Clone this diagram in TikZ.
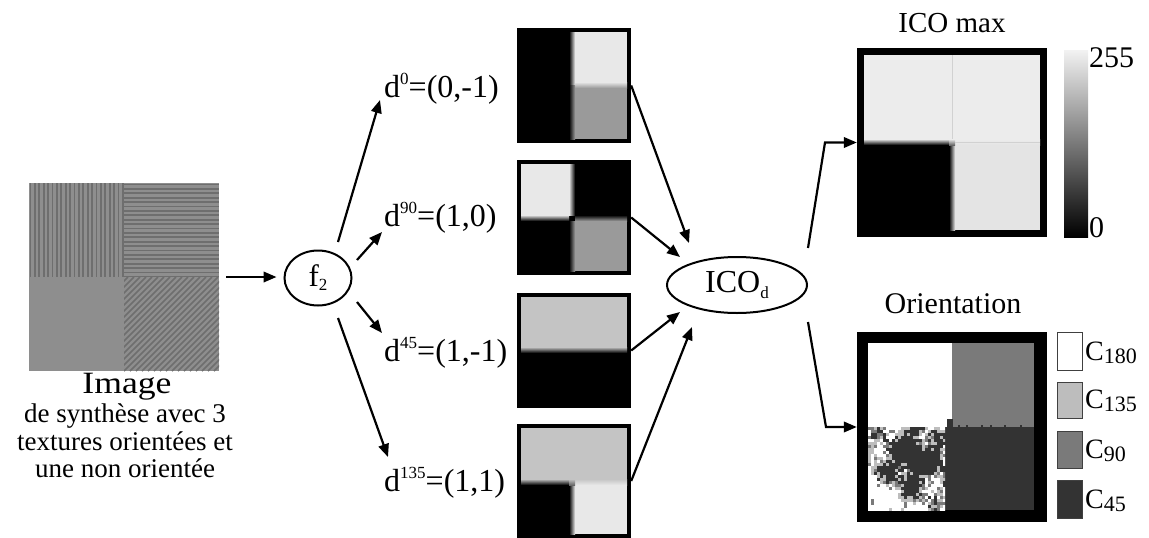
\documentclass[tikz,border=0pt]{standalone}
\usepackage{fontspec}
\setmainfont{Liberation Serif}
\usetikzlibrary{arrows.meta,shapes.geometric}
\newcommand{\myfs}[1]{\fontsize{#1}{#1}\selectfont}
\newcommand{\mysup}[1]{\raisebox{12.5pt}{\myfs{17}#1}}
\definecolor{lt}{HTML}{E8E8E8}
\definecolor{lt2}{HTML}{ECECEC}
\definecolor{lt3}{HTML}{E4E4E4}
\definecolor{mg}{HTML}{9A9A9A}
\definecolor{lg}{HTML}{C4C4C4}
\definecolor{texgray}{HTML}{8E8E8E}
\definecolor{texdark}{HTML}{6E6E6E}
\definecolor{oc1}{HTML}{333333}
\definecolor{oc2}{HTML}{BDBDBD}
\definecolor{oc3}{HTML}{7A7A7A}
\definecolor{oc4}{HTML}{FFFFFF}
\begin{document}
\begin{tikzpicture}[x=1pt,y=-1pt,
  conn/.style={line width=2.2pt,-{Triangle[length=13pt,width=10.5pt]}},
  ell/.style={draw,ellipse,line width=2pt,inner sep=0pt,font=\myfs{31}},
  lab/.style={anchor=base west,inner sep=0pt,font=\myfs{32}},
  imgbox/.style={inner sep=0pt,minimum width=114pt,minimum height=115pt},
  bigbox/.style={inner sep=0pt,minimum width=190pt,minimum height=190pt},
  stripe/.style={texdark,line width=1.7pt},
  legbox/.style={draw=black!75,line width=0.8pt},
  leglab/.style={anchor=base west,inner sep=0pt,font=\myfs{28}},
  desc/.style={anchor=base,inner sep=0pt,font=\myfs{27}},
]
\useasboundingbox (0,0) rectangle (1149,538);

% ---------- source image ----------
\node[inner sep=0pt,minimum width=190pt,minimum height=188pt] (src) at (124,277) {};
\begin{scope}
  \clip (29,183) rectangle (124,277);
  \fill[texgray] (29,183) rectangle (124,277);
  \foreach \k in {0,...,21} \draw[stripe] ({30.5+4.4*\k},183) -- ++(0,94);
\end{scope}
\begin{scope}
  \clip (124,183) rectangle (219,277);
  \fill[texgray] (124,183) rectangle (219,277);
  \foreach \k in {0,...,21} \draw[stripe] (124,{184.5+4.4*\k}) -- ++(95,0);
\end{scope}
\fill[texgray] (29,277) rectangle (124,371);
\begin{scope}
  \clip (124,277) rectangle (219,371);
  \fill[texgray] (124,277) rectangle (219,371);
  \foreach \k in {-17,...,17} \draw[stripe,line width=1.6pt] ({124+6*\k},371) -- ++(94,-94);
\end{scope}
\node[anchor=base,inner sep=0pt,font=\myfs{31}] (imgt) at (127,393) {\scalebox{1.15}[1]{Image}};
\node[desc] (imgd1) at (125,422) {de synthèse avec 3};
\node[desc] (imgd2) at (125,450) {textures orientées et};
\node[desc] (imgd3) at (125,477) {une non orientée};

% ---------- f2 ----------
\node[ell,minimum width=67pt,minimum height=55pt] (f2) at (318,278) {f\raisebox{-4pt}{\myfs{17}2}};
\draw[conn,shorten <=7pt,shorten >=7pt] (src.east) -- (src.east -| f2.west);

% ---------- direction labels ----------
\node[lab] (d0) at (384,97) {d\mysup{0}=(0,-1)};
\node[lab] (d90) at (384,226) {d\mysup{90}=(1,0)};
\node[lab] (d45) at (384,361) {d\mysup{45}=(1,-1)};
\node[lab] (d135) at (384,491) {d\mysup{135}=(1,1)};

\coordinate (s0) at (338,242); \coordinate (t0) at (380,100);
\coordinate (s1) at (357,260); \coordinate (t1) at (382,232);
\coordinate (s2) at (357,302); \coordinate (t2) at (382,333);
\coordinate (s3) at (338,318); \coordinate (t3) at (388,457);
\draw[conn] (s0) -- (t0);
\draw[conn] (s1) -- (t1);
\draw[conn] (s2) -- (t2);
\draw[conn] (s3) -- (t3);

% ---------- middle images ----------
\node[imgbox] (m1) at (574,85.5) {};
\node[imgbox] (m2) at (574,217.5) {};
\node[imgbox] (m3) at (574,350.5) {};
\node[imgbox] (m4) at (574,481) {};

% image 1
\fill[black] (517,28) rectangle (631,143);
\fill[lt] (575,32) rectangle (627,82);
\fill[mg] (575,88) rectangle (627,139);
\shade[top color=lt,bottom color=mg] (575,82) rectangle (627,88);
\shade[left color=black,right color=lt] (569,32) rectangle (575,85);
\shade[left color=black,right color=mg] (569,85) rectangle (575,139);
% image 2
\fill[black] (517,160) rectangle (631,275);
\fill[lt] (521,164) rectangle (569,215);
\shade[left color=lt,right color=black] (569,164) rectangle (575,215);
\shade[top color=lt,bottom color=black] (521,215) rectangle (569,221);
\fill[mg] (575,221) rectangle (627,271);
\shade[left color=black,right color=mg] (569,221) rectangle (575,271);
\shade[top color=black,bottom color=mg] (575,215) rectangle (627,221);
% image 3
\fill[black] (517,293) rectangle (631,408);
\fill[lg] (521,297) rectangle (627,347);
\shade[top color=lg,bottom color=black] (521,347) rectangle (627,353);
% image 4
\fill[black] (517,424) rectangle (631,538);
\fill[lg] (521,428) rectangle (627,479);
\shade[top color=lg,bottom color=black] (521,479) rectangle (569,485);
\shade[top color=lg,bottom color=lt] (575,479) rectangle (627,485);
\fill[lt] (575,485) rectangle (627,534);
\shade[left color=black,right color=lt] (569,485) rectangle (575,534);
\shade[top color=lg,bottom color=black!60] (569,479) rectangle (575,485);

% ---------- ICO_d ----------
\node[ell,minimum width=140pt,minimum height=56pt,font=\myfs{32}] (ico) at (737,285) {ICO\raisebox{-6pt}{\myfs{17}d}};
\coordinate (e1) at (689,243);
\coordinate (e2) at (680,257);
\coordinate (e3) at (680,312);
\coordinate (e4) at (692,327);
\draw[conn] (m1.east) -- (e1);
\draw[conn] (m2.east) -- (e2);
\draw[conn] (m3.east) -- (e3);
\draw[conn] (m4.east) -- (e4);

% ---------- ICO max ----------
\node[bigbox] (icomax) at (952,142.5) {};
\fill[black] (857,48) rectangle (1047,237);
\fill[lt2] (864,55) rectangle (1040,139);
\shade[top color=lt2,bottom color=black] (864,139) rectangle (949,145);
\shade[top color=lt2,bottom color=lt3] (955,139) rectangle (1040,145);
\fill[lt3] (955,145) rectangle (1040,230);
\shade[left color=black,right color=lt3] (949,145) rectangle (955,230);
\shade[top color=lt2,bottom color=black!60] (949,139) rectangle (955,145);
\draw[black!18,line width=0.7pt] (952,55) -- (952,139);
\draw[black!18,line width=0.7pt] (955,142) -- (1040,142);
\node[anchor=base,inner sep=0pt,font=\myfs{29}] (icot) at (952,32) {ICO max};

% colour bar
\shade[top color=black!5,bottom color=black] (1064,50) rectangle (1088,237);
\node[anchor=base west,inner sep=0pt,font=\myfs{30}] (c255) at (1089,67) {255};
\node[anchor=base west,inner sep=0pt,font=\myfs{30}] (c0) at (1089,237) {0};

% ---------- Orientation ----------
\node[bigbox] (ori) at (952,427) {};
\fill[black] (857,332) rectangle (1047,522);
\fill[white] (868,343) rectangle (952,427);
\fill[oc3] (952,343) rectangle (1034,427);
\fill[oc1] (945,427) rectangle (1034,510);
\fill[oc1] (947,419) rectangle (953,428);
\foreach \xx in {958,966,981,990,1004,1020} \fill[oc1] (\xx,425) rectangle ++(2,2);
\begin{scope}
  \clip (868,427) rectangle (945,510);
  \pgfmathsetseed{7}
  \foreach \i in {0,...,25}{
    \foreach \j in {0,...,27}{
      \pgfmathsetmacro{\dd}{abs(\i-15)/13+abs(\j-10)/14}
      \pgfmathsetmacro{\D}{1.0-\dd+0.35*sin(\i*31+\j*19)+0.3*cos(\i*17-\j*29)+0.8*(rnd-0.5)}
      \pgfmathtruncatemacro{\cc}{\D>0.08 ? 1 : (\D>-0.25 ? 2 : (\D>-0.37 ? 3 : 4))}
      \fill[oc\cc] ({868+3*\i},{427+3*\j}) rectangle ++(3,3);
    }
  }
\end{scope}
\node[anchor=base,inner sep=0pt,font=\myfs{30}] (orit) at (953,313) {Orientation};

% legend
\draw[legbox,fill=oc4] (1057,332) rectangle (1082,370);
\draw[legbox,fill=oc2] (1057,382) rectangle (1082,418);
\draw[legbox,fill=oc3] (1057,431) rectangle (1082,468);
\draw[legbox,fill=oc1] (1057,480) rectangle (1082,518);
\node[leglab] (l180) at (1085,360) {C\raisebox{-3pt}{\myfs{22}180}};
\node[leglab] (l135) at (1085,408) {C\raisebox{-3pt}{\myfs{22}135}};
\node[leglab] (l90) at (1085,458) {C\raisebox{-3pt}{\myfs{22}90}};
\node[leglab] (l45) at (1085,508) {C\raisebox{-3pt}{\myfs{22}45}};

% output arrows
\coordinate (u1) at (808,248); \coordinate (u2) at (825,142.5);
\coordinate (v1) at (808,322); \coordinate (v2) at (826,427);
\draw[conn] (u1) -- (u2) -- (icomax.west);
\draw[conn] (v1) -- (v2) -- (ori.west);
\end{tikzpicture}
\end{document}
